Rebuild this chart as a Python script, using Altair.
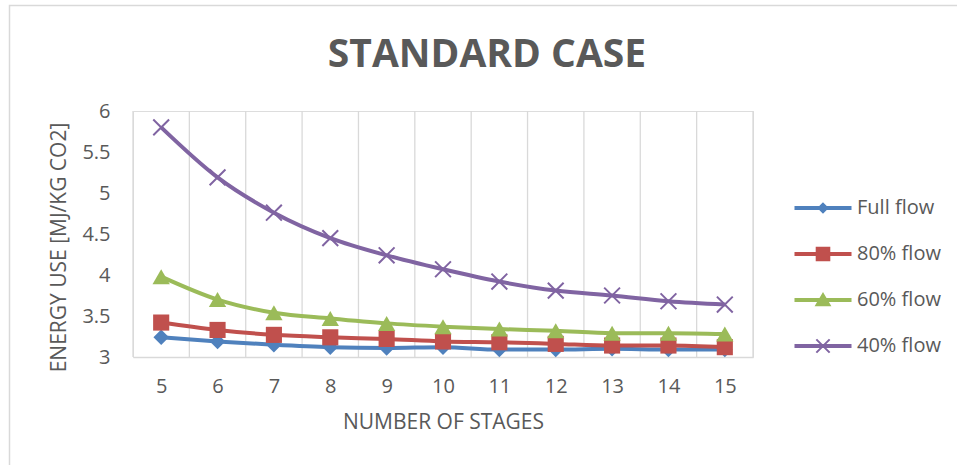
import altair as alt
import pandas as pd

# Energy use per number of stages, for four flow cases
stages = list(range(5, 16))
full_flow = [3.24, 3.19, 3.15, 3.12, 3.11, 3.12, 3.09, 3.09, 3.10, 3.09, 3.09]
flow_80 = [3.42, 3.33, 3.27, 3.24, 3.22, 3.19, 3.18, 3.16, 3.14, 3.14, 3.12]
flow_60 = [3.98, 3.70, 3.54, 3.47, 3.41, 3.37, 3.34, 3.32, 3.29, 3.29, 3.28]
flow_40 = [5.80, 5.19, 4.76, 4.45, 4.24, 4.07, 3.92, 3.81, 3.75, 3.68, 3.64]

series_names = ["Full flow", "80% flow", "60% flow", "40% flow"]
series_values = [full_flow, flow_80, flow_60, flow_40]
colors = ["#4F81BD", "#C0504D", "#9BBB59", "#8064A2"]

# category boundaries for the vertical gridlines
boundaries = [s - 0.5 for s in stages] + [stages[-1] + 0.5]

rows = []
for name, vals in zip(series_names, series_values):
    for st, v in zip(stages, vals):
        rows.append({"stages": st, "energy": v, "series": name})
df = pd.DataFrame(rows)

FONT = "Open Sans"
GREY = "#595959"
GRID = "#D9D9D9"

x_scale = alt.Scale(domain=[4.5, 15.5], nice=False, zero=False)
y_scale = alt.Scale(domain=[3, 6], nice=False, zero=False)

x_enc = alt.X(
    "stages:Q",
    scale=x_scale,
    axis=alt.Axis(
        values=stages, format="d", grid=False, ticks=False, domainColor=GRID,
        domainWidth=1.3, labelFontSize=20, labelColor=GREY, labelFont=FONT,
        labelPadding=29, labelBaseline="middle", labelFlush=False,
        title="NUMBER OF STAGES", titleFont=FONT, titleFontSize=21,
        titleFontWeight="normal", titleColor=GREY, titleY=65, titleBaseline="middle",
    ),
)
y_enc = alt.Y(
    "energy:Q",
    scale=y_scale,
    axis=alt.Axis(
        values=[3, 3.5, 4, 4.5, 5, 5.5, 6], format="~g", grid=False, ticks=False,
        domain=False, labelFontSize=20, labelColor=GREY, labelFont=FONT,
        labelPadding=23, labelFlush=False,
        title="ENERGY USE [MJ/KG CO2]", titleFont=FONT, titleFontSize=21,
        titleFontWeight="normal", titleColor=GREY, titleX=-74, titleY=136,
        titleAlign="center", titleBaseline="middle", titleAngle=-90,
    ),
)

base = alt.Chart(df)

# outer chart border
border = alt.Chart(alt.Data(values=[{}])).mark_rect(
    fill=None, stroke=GRID, strokeWidth=1.5
).encode(
    x=alt.value(-123.5), x2=alt.value(834), y=alt.value(-105.5), y2=alt.value(364)
)

grid = alt.Chart(pd.DataFrame({"b": boundaries})).mark_rule(
    color=GRID, strokeWidth=1.3
).encode(x=alt.X("b:Q", scale=x_scale))

marker_shapes = ["diamond", "square", "triangle-up", "M-1,-1L1,1M1,-1L-1,1"]
marker_sizes = [240, 260, 300, 250]

layers = [border, grid]
for name, col, shp, sz in zip(series_names, colors, marker_shapes, marker_sizes):
    sub = base.transform_filter(alt.datum.series == name)
    line = sub.mark_line(color=col, strokeWidth=4, interpolate="monotone").encode(
        x=x_enc, y=y_enc
    )
    if shp.startswith("M"):
        pts = sub.mark_point(
            shape=shp, size=sz, filled=False, stroke=col, strokeWidth=2, opacity=1
        ).encode(x=x_enc, y=y_enc)
    else:
        pts = sub.mark_point(
            shape=shp, size=sz, filled=True, fill=col, opacity=1
        ).encode(x=x_enc, y=y_enc)
    layers += [line, pts]

# legend symbols: a short line with the series marker on it
legend_paths = [
    "M-3.93,-0.14H3.93V0.14H-3.93Z M0,-0.62L0.62,0L0,0.62L-0.62,0Z",
    "M-3.93,-0.14H3.93V0.14H-3.93Z M-0.9,-0.9H0.9V0.9H-0.9Z",
    "M-3.93,-0.14H3.93V0.14H-3.93Z M0,-0.85L0.95,0.75H-0.95Z",
    "M-3.93,-0.14H3.93V0.14H-3.93Z M-0.95,-0.95L0.95,0.95M0.95,-0.95L-0.95,0.95",
]
legend_kw = dict(
    title=None, orient="none", legendX=680, legendY=87, labelFont=FONT,
    labelFontSize=20, labelColor=GREY, labelOffset=24, rowPadding=25,
    symbolSize=196, symbolStrokeWidth=2, symbolOpacity=1,
)
legend_layer = base.transform_filter(alt.datum.energy < 0).mark_point(
    size=196, filled=True, opacity=1, strokeWidth=2
).encode(
    x=alt.X("stages:Q", scale=x_scale),
    y=alt.Y("energy:Q", scale=y_scale),
    fill=alt.Fill("series:N", scale=alt.Scale(domain=series_names, range=colors),
                  legend=alt.Legend(**legend_kw)),
    stroke=alt.Stroke("series:N", scale=alt.Scale(domain=series_names, range=colors),
                      legend=alt.Legend(**legend_kw)),
    shape=alt.Shape("series:N", scale=alt.Scale(domain=series_names, range=legend_paths),
                    legend=alt.Legend(**legend_kw)),
)
layers.append(legend_layer)

chart = alt.layer(*layers).properties(
    width=620,
    height=246,
    title=alt.TitleParams(
        "STANDARD CASE", font=FONT, fontSize=39, fontWeight="bold", color=GREY,
        anchor="middle", dx=44, baseline="alphabetic", offset=-101,
    ),
    padding={"left": 133, "top": 111, "right": 204, "bottom": 108},
    autosize=alt.AutoSizeParams(type="none"),
).configure_view(stroke=None).configure(background="white")

chart.save("out.html", embed_options={"renderer": "svg", "actions": False})
